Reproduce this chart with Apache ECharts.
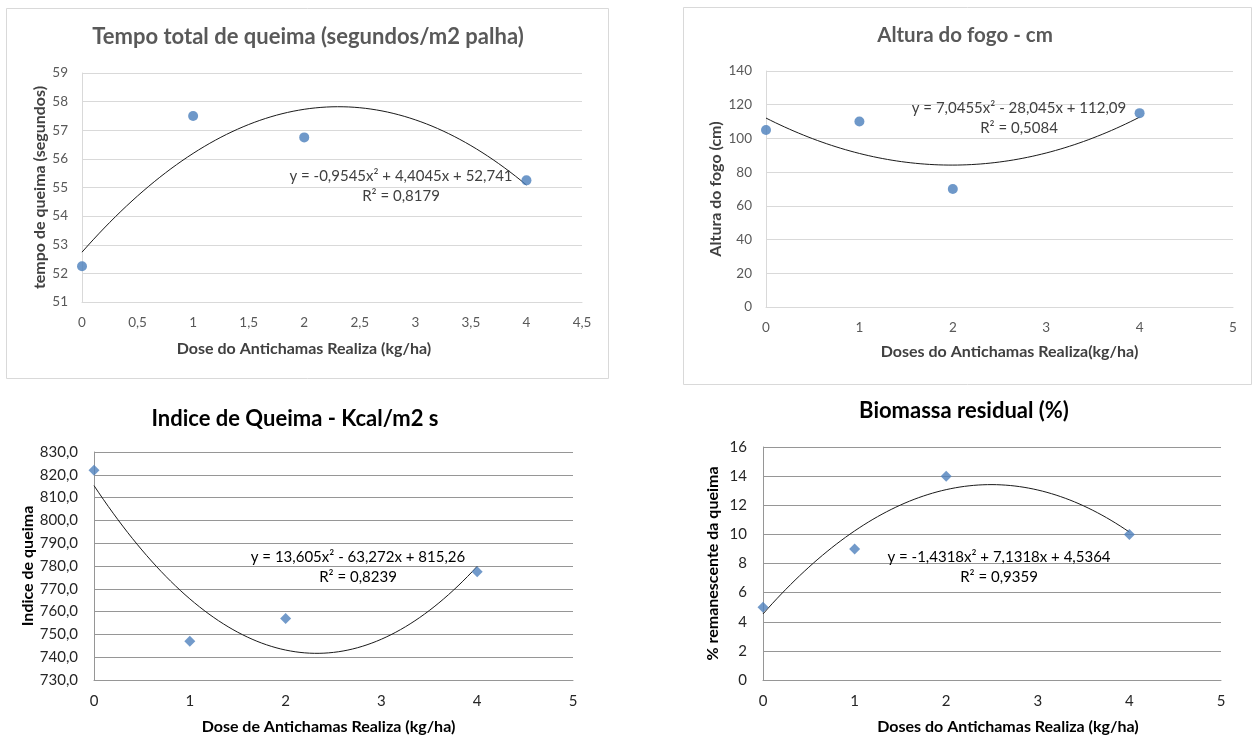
<!DOCTYPE html>
<html>
<head>
<meta charset="utf-8">
<script src="https://cdn.jsdelivr.net/npm/echarts@6/dist/echarts.min.js"></script>
<style>
  html, body { margin: 0; padding: 0; background: #fff; }
  #chart { width: 1253px; height: 738px; }
</style>
</head>
<body>
<div id="chart"></div>
<script>
// doses of the product (kg/ha), shared by the four panels
const doses = [0, 1, 2, 4]

// measured values, one array per panel
const tempoQueima = [52.25, 57.5, 56.75, 55.25]
const alturaFogo = [105, 110, 70, 115]
const indiceQueima = [822, 747, 757, 777.5]
const biomassaResidual = [5, 9, 14, 10]

// polynomial trendline coefficients as printed on each panel (a, b, c)
const coefTempo = [-0.9545, 4.4045, 52.741]
const coefAltura = [7.0455, -28.045, 112.09]
const coefIndice = [13.605, -63.272, 815.26]
const coefBiomassa = [-1.4318, 7.1318, 4.5364]

const titles = [
  'Tempo total de queima (segundos/m2 palha)',
  'Altura do fogo - cm',
  'Indice de Queima - Kcal/m2 s',
  'Biomassa residual (%)',
]
const equations = [
  ['y = -0,9545x² + 4,4045x + 52,741', 'R² = 0,8179'],
  ['y = 7,0455x² - 28,045x + 112,09', 'R² = 0,5084'],
  ['y = 13,605x² - 63,272x + 815,26', 'R² = 0,8239'],
  ['y = -1,4318x² + 7,1318x + 4,5364', 'R² = 0,9359'],
]
const xNames = [
  'Dose do Antichamas Realiza (kg/ha)',
  'Doses do Antichamas Realiza(kg/ha)',
  'Dose de Antichamas Realiza (kg/ha)',
  'Doses do Antichamas Realiza (kg/ha)',
]
const yNames = [
  'tempo de queima (segundos)',
  'Altura do fogo (cm)',
  'Indice de queima',
  '% remanescente da queima',
]

const FONT = 'Lato, "Open Sans", sans-serif'

function trendCurve(c) {
  const pts = []
  for (let i = 0; i <= 80; i++) {
    const x = i * 0.05
    pts.push([x, c[0] * x * x + c[1] * x + c[2]])
  }
  return pts
}

const comma = (v) => String(v).replace('.', ',')
const oneDecimal = (v) => v.toFixed(1).replace('.', ',')

const grids = [
  { left: 82, top: 73, width: 500, height: 229 },
  { left: 766, top: 71, width: 467, height: 236 },
  { left: 94, top: 452, width: 479, height: 228 },
  { left: 763, top: 447, width: 458, height: 233 },
]

const modern = { grid: '#d9d9d9', label: '#595959', name: '#404040', title: '#595959', tick: 13.5 }
const classic = { grid: '#969696', label: '#262626', name: '#000', title: '#000', tick: 15 }
const styles = [modern, modern, classic, classic]

// horizontal nudge of the x axis titles (they are not centred on the plot in the original)
const xNamePad = [[0, 56, 0, 0], [0, 0, 0, 20], [0, 10, 0, 0], [0, 0, 0, 32]]

function xAxis(i, max, interval, gap) {
  const s = styles[i]
  return {
    type: 'value', gridIndex: i, min: 0, max, interval,
    name: xNames[i], nameLocation: 'middle', nameGap: gap,
    nameTextStyle: { color: s.name, fontFamily: FONT, fontSize: 16, fontWeight: 'bold', padding: xNamePad[i] },
    axisLine: { onZero: false, lineStyle: { color: s.grid } },
    axisTick: { show: false },
    splitLine: { show: false },
    axisLabel: { color: s.label, fontFamily: FONT, fontSize: s.tick, margin: 14, formatter: comma },
  }
}

function yAxis(i, min, max, interval, gap, fmt) {
  const s = styles[i]
  return {
    type: 'value', gridIndex: i, min, max, interval,
    name: yNames[i], nameLocation: 'middle', nameGap: gap,
    nameTextStyle: { color: s.name, fontFamily: FONT, fontSize: 16, fontWeight: 'bold' },
    axisLine: { show: true, lineStyle: { color: s.grid } },
    axisTick: { show: false },
    splitLine: { lineStyle: { color: s.grid } },
    axisLabel: { color: s.label, fontFamily: FONT, fontSize: s.tick, margin: i < 2 ? 14 : 16, formatter: fmt || comma },
  }
}

const values = [tempoQueima, alturaFogo, indiceQueima, biomassaResidual]
const coefs = [coefTempo, coefAltura, coefIndice, coefBiomassa]

const series = []
values.forEach((vals, i) => {
  series.push({
    type: 'line', xAxisIndex: i, yAxisIndex: i,
    data: trendCurve(coefs[i]), showSymbol: false, smooth: false,
    lineStyle: { color: '#1a1a1a', width: 1 }, silent: true, z: 2,
  })
  series.push({
    type: 'scatter', xAxisIndex: i, yAxisIndex: i,
    data: doses.map((d, k) => [d, vals[k]]),
    symbol: i < 2 ? 'circle' : 'diamond',
    symbolSize: i < 2 ? 10 : 11,
    itemStyle: { color: i < 2 ? '#4a7ebb' : '#4f81bd' }, z: 3,
  })
})

// title centres, title sizes and equation label centres (pixels)
const titlePos = [[308, 37], [965, 35], [295, 419], [964, 411]]
const titleSize = [22, 20.5, 22, 22]
const eqPos = [[401, 176], [1019, 108], [358, 557], [999, 557]]

const graphic = [
  { type: 'rect', shape: { x: 6.5, y: 8.5, width: 602, height: 370 }, style: { fill: 'none', stroke: '#d9d9d9', lineWidth: 1 }, z: -1 },
  { type: 'rect', shape: { x: 683.5, y: 7.5, width: 568, height: 377 }, style: { fill: 'none', stroke: '#d9d9d9', lineWidth: 1 }, z: -1 },
]
titles.forEach((t, i) => {
  graphic.push({
    type: 'text', x: titlePos[i][0], y: titlePos[i][1],
    style: { text: t, fill: styles[i].title, font: 'bold ' + titleSize[i] + 'px ' + FONT, textAlign: 'center', textVerticalAlign: 'middle' },
  })
})
equations.forEach((eq, i) => {
  eq.forEach((line, k) => {
    graphic.push({
      type: 'text', x: eqPos[i][0], y: eqPos[i][1] + k * 20,
      style: { text: line, fill: i < 2 ? '#404040' : '#000', font: '15px ' + FONT, textAlign: 'center', textVerticalAlign: 'middle' },
      z: 10,
    })
  })
})

const chart = echarts.init(document.getElementById('chart'))
chart.setOption({
  backgroundColor: '#fff',
  animation: false,
  grid: grids,
  xAxis: [
    xAxis(0, 4.5, 0.5, 39),
    xAxis(1, 5, 1, 37),
    xAxis(2, 5, 1, 39),
    xAxis(3, 5, 1, 39),
  ],
  yAxis: [
    yAxis(0, 51, 59, 1, 34),
    yAxis(1, 0, 140, 20, 42),
    yAxis(2, 730, 830, 10, 58, oneDecimal),
    yAxis(3, 0, 16, 2, 42),
  ],
  series,
  graphic,
})
</script>
</body>
</html>
